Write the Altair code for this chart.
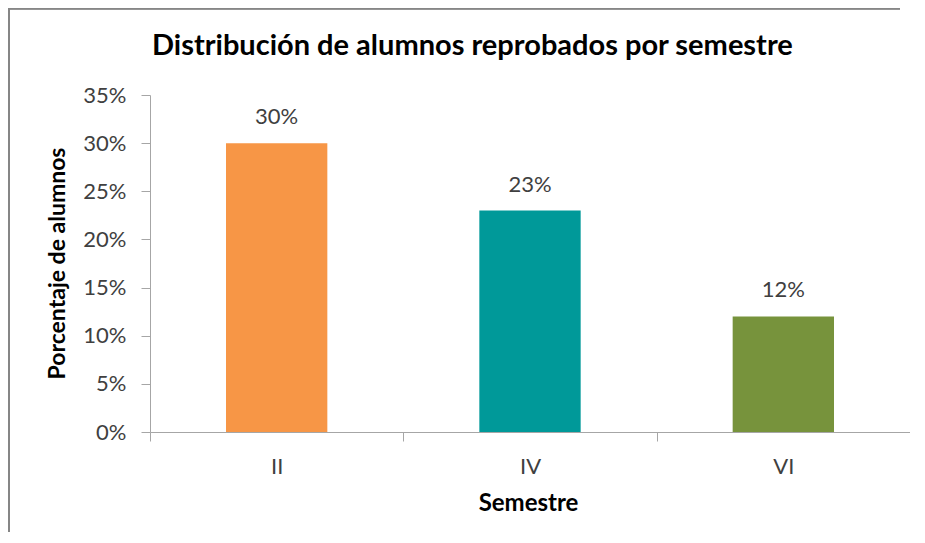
import altair as alt
import pandas as pd

semestres = ["II", "IV", "VI"]
porcentajes = [0.30, 0.23, 0.12]
colores = ["#F79646", "#009999", "#77933C"]

df = pd.DataFrame({"Semestre": semestres, "Porcentaje": porcentajes})

FONT = "Lato"
AXIS_COLOR = "#A6A6A6"
TEXT_COLOR = "#404040"

x_enc = alt.X(
    "Semestre:N",
    sort=semestres,
    scale=alt.Scale(paddingInner=0, paddingOuter=0),
    axis=alt.Axis(
        title="Semestre",
        tickBand="extent",
        labelAngle=0,
        labelFont=FONT,
        labelFontSize=22,
        labelColor=TEXT_COLOR,
        labelPadding=15,
        tickSize=9,
        tickColor=AXIS_COLOR,
        domainColor=AXIS_COLOR,
        titleFont=FONT,
        titleFontSize=24,
        titleFontWeight="bold",
        titleColor="#000000",
        titleX=378,
        titleY=78,
        titleBaseline="alphabetic",
    ),
)

y_enc = alt.Y(
    "Porcentaje:Q",
    scale=alt.Scale(domain=[0, 0.35], nice=False),
    axis=alt.Axis(
        title="Porcentaje de alumnos",
        values=[0, 0.05, 0.10, 0.15, 0.20, 0.25, 0.30, 0.35],
        format=".0%",
        grid=False,
        labelFont=FONT,
        labelFontSize=22,
        labelColor=TEXT_COLOR,
        labelPadding=15,
        tickSize=9,
        tickColor=AXIS_COLOR,
        domainColor=AXIS_COLOR,
        titleFont=FONT,
        titleFontSize=23,
        titleFontWeight="bold",
        titleColor="#000000",
        titleAngle=-90,
        titleX=-93,
        titleY=168,
        titleBaseline="middle",
    ),
)

bars = alt.Chart(df).mark_bar(width=alt.RelativeBandSize(0.4)).encode(
    x=x_enc,
    y=y_enc,
    color=alt.Color("Semestre:N", scale=alt.Scale(domain=semestres, range=colores), legend=None),
)

labels = alt.Chart(df).mark_text(
    font=FONT, fontSize=22, color=TEXT_COLOR, baseline="alphabetic", dy=-19
).encode(
    x=alt.X("Semestre:N", sort=semestres),
    y=alt.Y("Porcentaje:Q"),
    text=alt.Text("Porcentaje:Q", format=".0%"),
)

frame_left = alt.Chart(df).mark_rule(stroke="#868686", strokeWidth=2).encode(
    x=alt.value(-141), y=alt.value(-87.5), y2=alt.value(460)
)
frame_top = alt.Chart(df).mark_rule(stroke="#868686", strokeWidth=2).encode(
    x=alt.value(-142), x2=alt.value(750), y=alt.value(-86.5)
)

chart = alt.layer(frame_left, frame_top, bars, labels).properties(
    width=760,
    height=337,
    autosize=alt.AutoSizeParams(type="none"),
    padding={"left": 142, "top": 87, "right": 0, "bottom": 100},
    title=alt.TitleParams(
        "Distribución de alumnos reprobados por semestre",
        anchor="start",
        frame="group",
        dx=2,
        offset=-77.5,
        baseline="alphabetic",
        font=FONT,
        fontSize=29,
        fontWeight="bold",
        color="#000000",
    ),
).configure(background="white").configure_view(stroke=None, strokeWidth=0)

chart.save("out.html", embed_options={"renderer": "svg", "actions": False})
